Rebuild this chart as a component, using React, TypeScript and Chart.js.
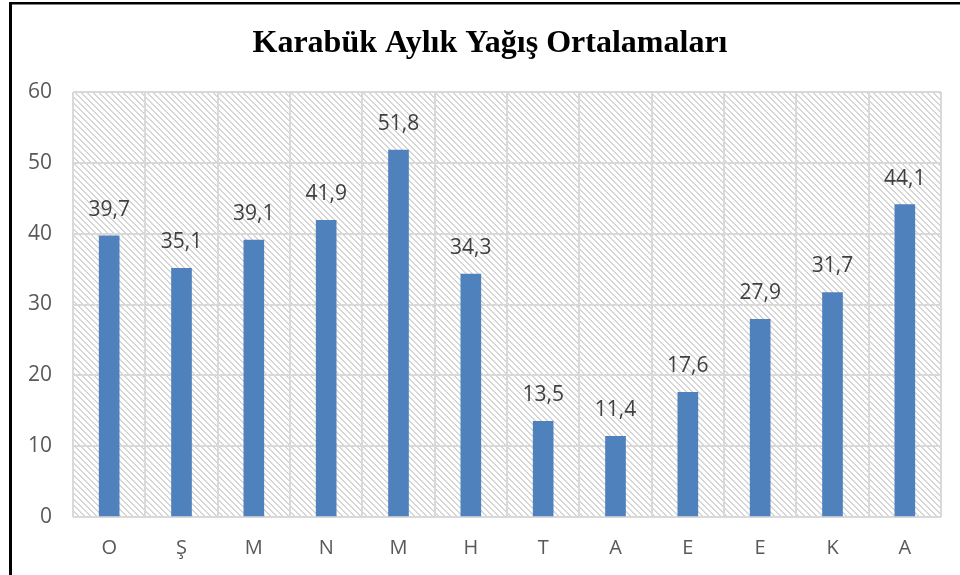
import React, { useEffect, useRef } from "react";
import { Chart, registerables } from "chart.js";

Chart.register(...registerables);

const TITLE = "Karabük Aylık Yağış Ortalamaları";
const MONTHS = ["O", "Ş", "M", "N", "M", "H", "T", "A", "E", "E", "K", "A"];
const RAINFALL = [39.7, 35.1, 39.1, 41.9, 51.8, 34.3, 13.5, 11.4, 17.6, 27.9, 31.7, 44.1];
const Y_MIN = 0;
const Y_MAX = 60;
const Y_STEP = 10;

const FONT = "'Open Sans', Lato, sans-serif";

function makeHatch(): CanvasPattern | string {
  const c = document.createElement("canvas");
  const n = 6;
  c.width = n;
  c.height = n;
  const ctx = c.getContext("2d");
  if (!ctx) return "#ffffff";
  ctx.fillStyle = "#ffffff";
  ctx.fillRect(0, 0, n, n);
  ctx.fillStyle = "#d6d6d6";
  for (let y = 0; y < n; y++) {
    for (let x = 0; x < n; x++) {
      const d = (((x - y) % n) + n) % n;
      if (d < 2) ctx.fillRect(x, y, 1, 1);
    }
  }
  const p = ctx.createPattern(c, "repeat");
  return p || "#ffffff";
}

export default function App() {
  const ref = useRef<HTMLCanvasElement | null>(null);

  useEffect(() => {
    document.body.style.margin = "0";
    const canvas = ref.current;
    if (!canvas) return;
    const hatch = makeHatch();

    const framePlugin = {
      id: "frame",
      beforeDraw(chart: any) {
        const { ctx, chartArea } = chart;
        ctx.save();
        ctx.fillStyle = "#ffffff";
        ctx.fillRect(0, 0, chart.width, chart.height);
        ctx.fillStyle = hatch;
        ctx.fillRect(chartArea.left, chartArea.top, chartArea.right - chartArea.left, chartArea.bottom - chartArea.top);
        ctx.restore();
      },
      afterDraw(chart: any) {
        const { ctx } = chart;
        ctx.save();
        ctx.fillStyle = "#000000";
        ctx.fillRect(9, 2, 3, chart.height);
        ctx.fillRect(9, 2, chart.width, 2.5);
        ctx.font = "bold 32px 'Liberation Serif', 'Times New Roman', serif";
        ctx.textAlign = "center";
        ctx.textBaseline = "middle";
        ctx.fillText(TITLE, 490, 44);
        ctx.restore();
      },
    };

    const labelPlugin = {
      id: "valueLabels",
      afterDatasetsDraw(chart: any) {
        const { ctx } = chart;
        const meta = chart.getDatasetMeta(0);
        ctx.save();
        ctx.font = `21px ${FONT}`;
        ctx.fillStyle = "#404040";
        ctx.textAlign = "center";
        ctx.textBaseline = "middle";
        meta.data.forEach((bar: any, i: number) => {
          const v = RAINFALL[i];
          ctx.fillText(v.toFixed(1).replace(".", ","), bar.x, bar.y - 26);
        });
        ctx.restore();
      },
    };

    const chart = new Chart(canvas, {
      type: "bar",
      data: {
        labels: MONTHS,
        datasets: [
          {
            data: RAINFALL,
            backgroundColor: "#4F81BD",
            borderWidth: 0,
            barThickness: 20,
          },
        ],
      },
      options: {
        responsive: false,
        animation: false,
        devicePixelRatio: 1,
        layout: { padding: { top: 92, right: 19, bottom: 0, left: 0 } },
        plugins: {
          legend: { display: false },
          title: { display: false },
          tooltip: { enabled: false },
        },
        scales: {
          x: {
            offset: true,
            grid: { color: "#d9d9d9", lineWidth: 2, drawTicks: false, offset: true },
            border: { display: false },
            ticks: { color: "#595959", font: { family: FONT, size: 20 }, padding: 19 },
            afterFit(scale: any) {
              scale.height = 58;
            },
          },
          y: {
            min: Y_MIN,
            max: Y_MAX,
            grid: { color: "#d9d9d9", lineWidth: 2, drawTicks: false },
            border: { display: false },
            ticks: { stepSize: Y_STEP, color: "#595959", font: { family: FONT, size: 21 }, padding: 21 },
            afterFit(scale: any) {
              scale.width = 73;
            },
          },
        },
      },
      plugins: [framePlugin, labelPlugin],
    });
    return () => chart.destroy();
  }, []);

  return (
    <canvas
      ref={ref}
      width={960}
      height={575}
      style={{ position: "fixed", left: 0, top: 0, width: 960, height: 575 }}
    />
  );
}
